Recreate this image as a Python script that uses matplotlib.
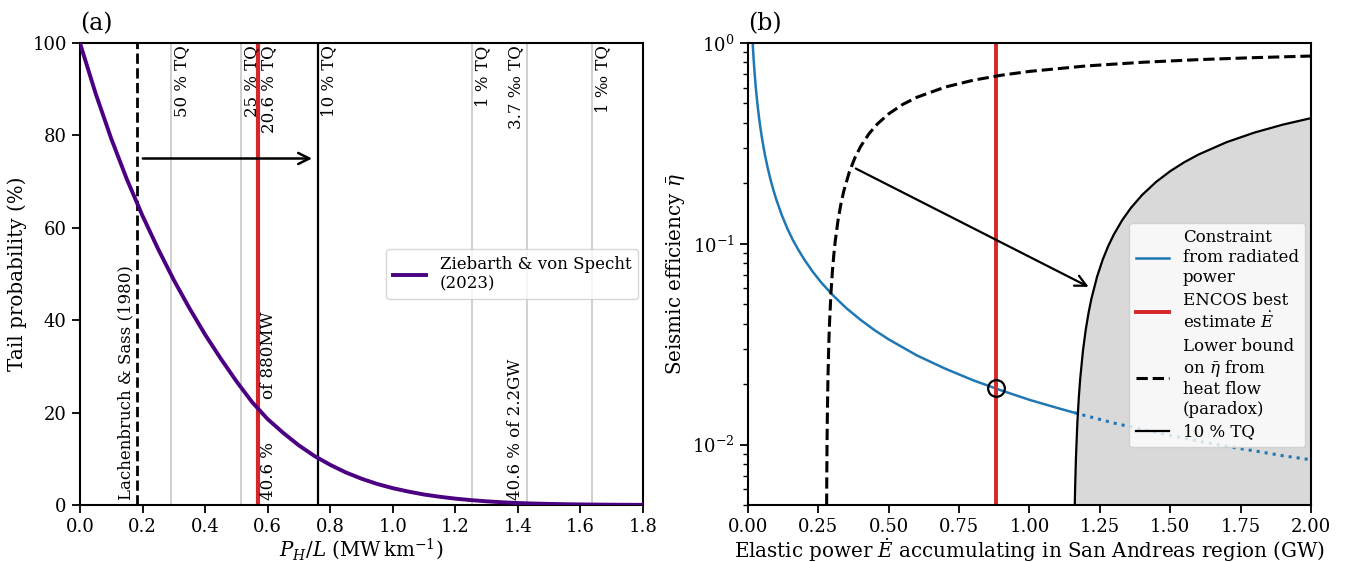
import matplotlib
matplotlib.use("Agg")
import matplotlib.pyplot as plt

plt.rcParams["font.family"] = "DejaVu Serif"
plt.rcParams["mathtext.fontset"] = "dejavuserif"
plt.rcParams["axes.linewidth"] = 1.5
plt.rcParams["xtick.major.width"] = 1.3
plt.rcParams["ytick.major.width"] = 1.3
plt.rcParams["xtick.major.size"] = 6
plt.rcParams["ytick.major.size"] = 6
plt.rcParams["ytick.minor.size"] = 3.5
plt.rcParams["ytick.minor.width"] = 1.0

# panel (a): tail probability of P_H/L
ph_l = [0.0, 0.05, 0.1, 0.15, 0.2, 0.25, 0.3, 0.35, 0.4, 0.45, 0.5, 0.55,
        0.6, 0.65, 0.7, 0.75, 0.8, 0.85, 0.9, 0.95, 1.0, 1.05, 1.1, 1.15,
        1.2, 1.25, 1.3, 1.35, 1.4, 1.45, 1.5, 1.55, 1.6, 1.65, 1.7, 1.75, 1.8]
tail_prob = [100, 89.1, 79.3, 70.5, 62.6, 55.4, 48.7, 42.6, 36.9, 31.7, 26.8,
             22.3, 18.6, 15.6, 12.9, 10.6, 8.7, 7.05, 5.7, 4.56, 3.65, 2.91,
             2.27, 1.79, 1.38, 1.06, 0.80, 0.59, 0.43, 0.32, 0.24, 0.18,
             0.127, 0.091, 0.067, 0.048, 0.034]

tq_pos = [0.291, 0.515, 1.253, 1.429, 1.637]
tq_labels = ["50 % TQ", "25 % TQ", "1 % TQ", "3.7 ‰ TQ", "1 ‰ TQ"]
tq_side = ["left", "left", "left", "right", "left"]
lachenbruch = 0.182
encos_a = 0.569
tq10 = 0.761

# panel (b): seismic efficiency vs elastic power
e_rad = [0.0167, 0.018, 0.02, 0.022, 0.025, 0.028, 0.032, 0.036, 0.04, 0.045,
         0.05, 0.06, 0.07, 0.08, 0.09, 0.1, 0.12, 0.14, 0.16, 0.18, 0.2,
         0.23, 0.26, 0.3, 0.35, 0.4, 0.45, 0.5, 0.6, 0.7, 0.8, 0.9, 1.0,
         1.1, 1.16]
eta_rad = [1.0, 0.928, 0.835, 0.759, 0.668, 0.596, 0.522, 0.464, 0.4175,
           0.371, 0.334, 0.278, 0.239, 0.209, 0.186, 0.167, 0.139, 0.119,
           0.104, 0.0928, 0.0835, 0.0726, 0.0642, 0.0557, 0.0477, 0.0418,
           0.0371, 0.0334, 0.0278, 0.0239, 0.0209, 0.0186, 0.0167, 0.0152,
           0.0144]
e_rad_dot = [1.16, 1.3, 1.4, 1.5, 1.6, 1.7, 1.8, 1.9, 2.0]
eta_rad_dot = [0.0144, 0.0128, 0.0119, 0.0111, 0.0104, 0.0098, 0.0093,
               0.0088, 0.0084]

e_heat = [0.2794, 0.28, 0.281, 0.282, 0.284, 0.286, 0.288, 0.29, 0.295, 0.3,
          0.305, 0.31, 0.32, 0.33, 0.34, 0.36, 0.38, 0.4, 0.43, 0.46, 0.5,
          0.55, 0.6, 0.7, 0.8, 0.9, 1.0, 1.2, 1.4, 1.6, 1.8, 2.0]
eta_heat = [0.00501, 0.00714, 0.01068, 0.01418, 0.02113, 0.02797, 0.03472,
            0.04138, 0.05763, 0.07333, 0.08852, 0.10323, 0.13125, 0.15758,
            0.18235, 0.22778, 0.26842, 0.305, 0.35349, 0.39565, 0.444,
            0.49455, 0.53667, 0.60286, 0.6525, 0.69111, 0.722, 0.76833,
            0.80143, 0.82625, 0.84556, 0.861]

e_tq = [1.155, 1.156, 1.157, 1.158, 1.16, 1.162, 1.165, 1.17, 1.175, 1.18,
        1.19, 1.2, 1.21, 1.22, 1.24, 1.26, 1.28, 1.3, 1.33, 1.36, 1.4, 1.45,
        1.5, 1.55, 1.6, 1.7, 1.8, 1.9, 2.0]
eta_tq = [0.0003, 0.00087, 0.00173, 0.00259, 0.00431, 0.00602, 0.00858,
          0.01282, 0.01702, 0.02119, 0.02941, 0.0375, 0.04545, 0.05328,
          0.06855, 0.08333, 0.09766, 0.11154, 0.13158, 0.15074, 0.175,
          0.20345, 0.23, 0.25484, 0.27813, 0.32059, 0.35833, 0.39211, 0.4225]

encos_b = 0.88
encos_eta = 0.0192

fig, (ax1, ax2) = plt.subplots(1, 2, figsize=(13.46, 5.62), dpi=100)
fig.subplots_adjust(left=0.0594, right=0.974, bottom=0.1014, top=0.9235,
                    wspace=0.1865)

# ---- (a)
for x, lab, side in zip(tq_pos, tq_labels, tq_side):
    ax1.axvline(x, color="#cccccc", lw=1.3, zorder=1)
    dx = 0.008 if side == "left" else -0.008
    ax1.text(x + dx, 99.5, lab, rotation=90, ha=side, va="top", fontsize=12)

ax1.axvline(lachenbruch, color="k", ls="--", lw=2, zorder=2)
ax1.text(lachenbruch - 0.008, 1, "Lachenbruch & Sass (1980)", rotation=90,
         ha="right", va="bottom", fontsize=12)
ax1.axvline(encos_a, color="tab:red", lw=3, zorder=2)
ax1.text(encos_a + 0.008, 99.5, "20.6 % TQ", rotation=90, ha="left", va="top",
         fontsize=12)
ax1.text(encos_a + 0.008, 1, "40.6 %", rotation=90, ha="left", va="bottom",
         fontsize=12)
ax1.text(encos_a + 0.008, 23, "of 880MW", rotation=90, ha="left",
         va="bottom", fontsize=12)
ax1.axvline(tq10, color="k", lw=1.6, zorder=2)
ax1.text(tq10 + 0.008, 99.5, "10 % TQ", rotation=90, ha="left", va="top",
         fontsize=12)
ax1.text(tq_pos[3] - 0.008, 1, "40.6 % of 2.2GW", rotation=90, ha="right",
         va="bottom", fontsize=12)

ax1.plot(ph_l, tail_prob, color="indigo", lw=2.8, zorder=3,
         label="Ziebarth & von Specht\n(2023)")
ax1.annotate("", xy=(tq10 - 0.01, 75), xytext=(lachenbruch + 0.01, 75),
             arrowprops=dict(arrowstyle="->", color="k", lw=1.8,
                             mutation_scale=20))
ax1.set_xlim(0, 1.8)
ax1.set_ylim(0, 100)
ax1.set_xlabel(r"$P_H/L$ (MW$\,$km$^{-1}$)", fontsize=14.3, labelpad=0)
ax1.set_ylabel("Tail probability (%)", fontsize=14.3)
ax1.tick_params(labelsize=13)
ax1.set_title("(a)", loc="left", fontsize=17, pad=9)
ax1.legend(loc="center right", bbox_to_anchor=(1.0, 0.5), fontsize=12,
           handlelength=2.0, borderaxespad=0.3)

# ---- (b)
ax2.fill_between(e_tq, 1e-4, eta_tq, color="#d9d9d9", lw=0, zorder=0)
ax2.plot(e_rad, eta_rad, color="tab:blue", lw=1.8,
         label="Constraint\nfrom radiated\npower")
ax2.plot(e_rad_dot, eta_rad_dot, color="tab:blue", lw=2.2, ls=":")
ax2.axvline(encos_b, color="tab:red", lw=2.8,
            label="ENCOS best\nestimate $\\dot{E}$")
ax2.plot(e_heat, eta_heat, color="k", ls="--", lw=2.2,
         label="Lower bound\non $\\bar{\\eta}$ from\nheat flow\n(paradox)")
ax2.plot(e_tq, eta_tq, color="k", lw=1.6, label="10 % TQ")
ax2.plot([encos_b], [encos_eta], "o", mfc="none", mec="k", ms=12, mew=1.6)
ax2.annotate("", xy=(1.21, 0.061), xytext=(0.383, 0.237),
             arrowprops=dict(arrowstyle="->", color="k", lw=1.6,
                             mutation_scale=20, shrinkA=0, shrinkB=0))
ax2.set_yscale("log")
ax2.set_xlim(0, 2)
ax2.set_ylim(0.005, 1)
ax2.set_xticks([0, 0.25, 0.5, 0.75, 1.0, 1.25, 1.5, 1.75, 2.0])
ax2.set_xlabel(r"Elastic power $\dot{E}$ accumulating in San Andreas region (GW)",
               fontsize=14.3, labelpad=0)
ax2.set_ylabel(r"Seismic efficiency $\bar{\eta}$", fontsize=14.3)
ax2.tick_params(labelsize=13)
ax2.set_title("(b)", loc="left", fontsize=17, pad=9)
ax2.legend(loc="lower right", bbox_to_anchor=(0.99, 0.125), fontsize=12,
           handlelength=2.0, labelspacing=0.35, borderaxespad=0.0)

fig.savefig("out.png", dpi=100)
